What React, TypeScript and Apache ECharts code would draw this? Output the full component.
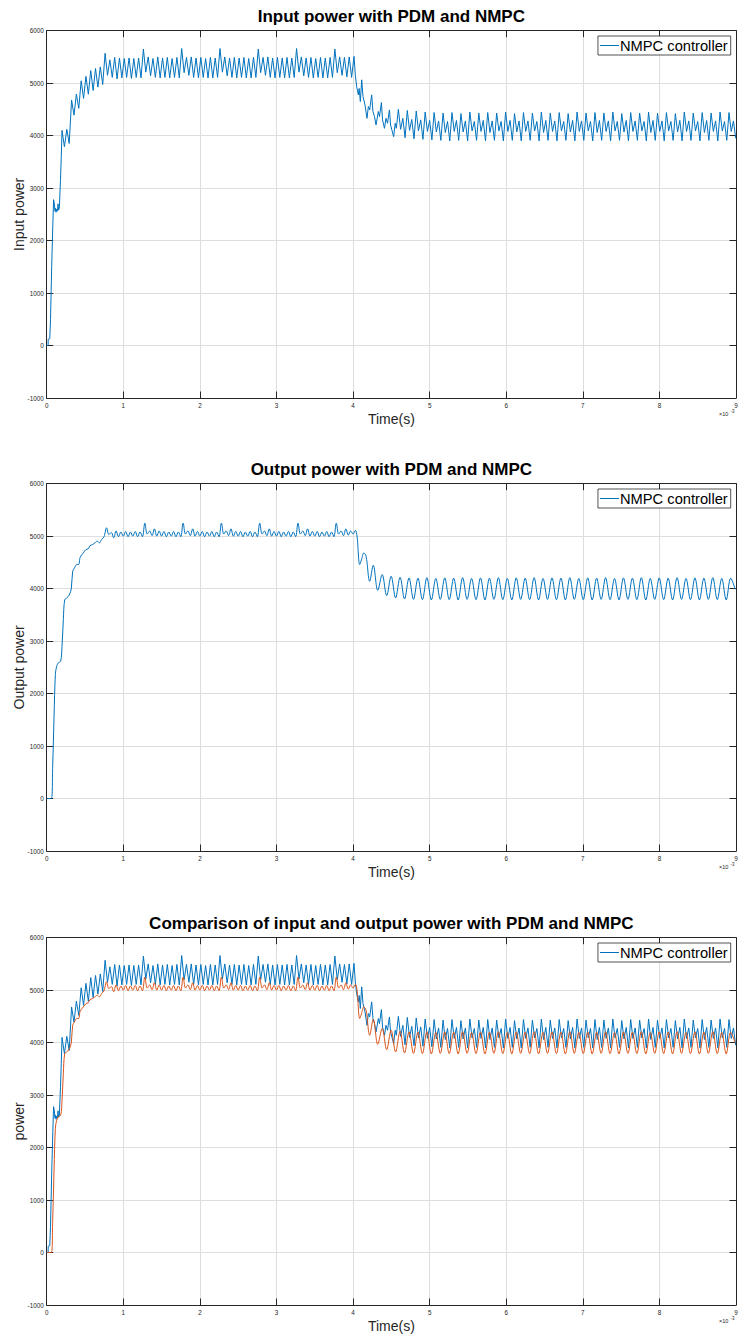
import React, { useEffect, useRef } from "react";
import * as echarts from "echarts";

// ---------- data (time in ms, power values) ----------
const X_TICKS = [0, 1, 2, 3, 4, 5, 6, 7, 8, 9];
const Y_TICKS = [-1000, 0, 1000, 2000, 3000, 4000, 5000, 6000];

const TITLES = [
  "Input power with PDM and NMPC",
  "Output power with PDM and NMPC",
  "Comparison of input and output power with PDM and NMPC",
];
const Y_NAMES = ["Input power", "Output power", "power"];
const LEGEND_NAME = "NMPC controller";

// Input power: start-up
const INPUT_RISE_T = [0, 0.018, 0.02, 0.04, 0.05, 0.065, 0.08, 0.09, 0.1, 0.108, 0.115, 0.122, 0.13, 0.14, 0.148, 0.155, 0.165, 0.18, 0.19];
const INPUT_RISE_V = [0, 0, 120, 130, 500, 1500, 2300, 2780, 2700, 2560, 2620, 2540, 2600, 2560, 2700, 2580, 2620, 3150, 3600];
// Input power: ripple (peak / trough) from 0.2 ms, sampled every 0.03125 ms
const INPUT_RIPPLE_T0 = 0.2;
const INPUT_RIPPLE_DT = 0.03125;
const INPUT_RIPPLE_V = [
  4100, 3790, 4120, 3850, 4680, 4390, 4790, 4520, 5045, 4710, 5130, 4790, 5240, 4860, 5280, 4925, 5310, 4975,
  5570, 5150, 5445, 5110, 5490, 5080, 5480, 5100, 5470, 5110, 5480, 5090, 5470, 5110, 5480, 5100,
  5650, 5210, 5500, 5140, 5470, 5110, 5500, 5100, 5480, 5110, 5490, 5100, 5470, 5110, 5490, 5100,
  5660, 5200, 5490, 5150, 5500, 5110, 5480, 5100, 5490, 5110, 5470, 5100, 5490, 5100, 5480, 5110,
  5660, 5210, 5500, 5140, 5480, 5110, 5490, 5100, 5480, 5110, 5490, 5100, 5470, 5100, 5490, 5110,
  5650, 5200, 5490, 5150, 5500, 5110, 5480, 5100, 5490, 5110, 5480, 5100, 5490, 5100, 5480, 5110,
  5660, 5210, 5500, 5140, 5480, 5110, 5490, 5100, 5470, 5110, 5490, 5100, 5480, 5100, 5490, 5110,
  5650, 5200, 5500, 5150, 5490, 5120, 5500, 5110, 5510,
];
// Input power: load step near 4 ms
const INPUT_STEP_T = [4.03, 4.047, 4.069, 4.08, 4.095, 4.113, 4.13, 4.156, 4.182, 4.2, 4.217, 4.243, 4.26, 4.28, 4.3, 4.33, 4.345, 4.37, 4.385, 4.41, 4.43, 4.45, 4.475, 4.49, 4.53, 4.55, 4.565];
const INPUT_STEP_V = [5150, 4936, 4777, 4900, 4650, 5064, 4745, 4586, 4330, 4554, 4490, 4777, 4458, 4363, 4204, 4460, 4363, 4630, 4300, 4140, 4330, 4236, 4490, 4204, 3980, 4236, 4140];
// Input power: second steady state (spike, dip, shoulder, trough), every 0.029167 ms
const INPUT_TAIL_T0 = 4.5917;
const INPUT_TAIL_DT = 0.029167;
const INPUT_TAIL_V = [
  4500, 4120, 4330, 3960, 4480, 4100, 4310, 3940, 4470, 4090, 4300, 3930, 4450, 4080, 4290, 3920,
  4440, 4070, 4280, 3910, 4430, 4060, 4270, 3900, 4440, 4080, 4290, 3910, 4420, 4070, 4280, 3900,
  4450, 4090, 4270, 3910, 4430, 4080, 4290, 3900, 4440, 4060, 4280, 3910, 4430, 4090, 4270, 3900,
  4450, 4080, 4290, 3910, 4420, 4070, 4280, 3900, 4440, 4080, 4280, 3910, 4430, 4090, 4270, 3900,
  4450, 4060, 4290, 3910, 4430, 4080, 4280, 3900, 4440, 4090, 4270, 3910, 4420, 4070, 4290, 3900,
  4450, 4080, 4280, 3910, 4430, 4090, 4270, 3900, 4440, 4060, 4290, 3910, 4430, 4080, 4280, 3900,
  4450, 4090, 4270, 3910, 4420, 4070, 4290, 3900, 4440, 4080, 4280, 3910, 4430, 4090, 4270, 3900,
  4450, 4060, 4290, 3910, 4430, 4080, 4280, 3900, 4440, 4090, 4270, 3910, 4420, 4070, 4290, 3900,
  4450, 4080, 4280, 3910, 4430, 4090, 4270, 3900, 4440, 4060, 4290, 3910, 4430, 4080, 4280, 3900,
  4450, 4090, 4270, 3910, 4440, 4080, 4280, 3950,
];

// Output power: start-up
const OUTPUT_RISE_T = [0, 0.06, 0.078, 0.096, 0.113, 0.13, 0.152, 0.183, 0.2, 0.217, 0.235, 0.26, 0.296, 0.322, 0.339, 0.365, 0.391, 0.417, 0.435, 0.461, 0.478, 0.513, 0.543, 0.565, 0.6, 0.63, 0.66, 0.687, 0.717, 0.748];
const OUTPUT_RISE_V = [0, 0, 615, 1570, 2363, 2520, 2585, 2620, 2900, 3410, 3790, 3820, 3880, 4010, 4330, 4400, 4460, 4460, 4590, 4650, 4680, 4745, 4760, 4820, 4840, 4873, 4905, 4873, 4936, 4987];
// Output power: ripple from 0.78125 ms, every 0.03125 ms
const OUTPUT_RIPPLE_T0 = 0.78125;
const OUTPUT_RIPPLE_DT = 0.03125;
const OUTPUT_RIPPLE_V = [
  5160, 5030, 5070, 4970, 5100, 4990, 5080, 5000, 5090, 4990, 5080, 5000, 5090, 4990, 5080, 4990,
  5250, 5040, 5100, 5010, 5140, 5000, 5100, 5000, 5090, 4990, 5080, 5000, 5090, 4990, 5080, 4990,
  5250, 5040, 5100, 5010, 5140, 5000, 5090, 5000, 5090, 4990, 5080, 5000, 5090, 4990, 5080, 4990,
  5250, 5040, 5100, 5010, 5140, 5000, 5090, 5000, 5090, 4990, 5080, 5000, 5090, 4990, 5080, 4990,
  5250, 5040, 5100, 5010, 5140, 5000, 5090, 5000, 5090, 4990, 5080, 5000, 5090, 4990, 5080, 4990,
  5250, 5040, 5100, 5010, 5140, 5000, 5090, 5000, 5090, 4990, 5080, 5000, 5090, 4990, 5080, 4990,
  5250, 5040, 5100, 5010, 5140, 5020, 5100, 5040, 5110,
];
// Output power: load step near 4 ms
const OUTPUT_STEP_T = [4.052, 4.087, 4.11, 4.14, 4.17, 4.217];
const OUTPUT_STEP_V = [5000, 4460, 4550, 4680, 4620, 4140];
// Output power: second steady state, peak / trough every 0.058333 ms
const OUTPUT_TAIL_T0 = 4.264;
const OUTPUT_TAIL_DT = 0.058333;
const OUTPUT_TAIL_V = [
  4446, 3968, 4268, 3866, 4236, 3822, 4217, 3803, 4204, 3795,
  4200, 3790, 4210, 3785, 4195, 3795, 4205, 3790, 4200, 3785, 4210, 3795, 4195, 3790,
  4205, 3785, 4200, 3795, 4210, 3790, 4195, 3785, 4205, 3795, 4200, 3790, 4210, 3785,
  4195, 3795, 4205, 3790, 4200, 3785, 4210, 3795, 4195, 3790, 4205, 3785, 4200, 3795,
  4210, 3790, 4195, 3785, 4205, 3795, 4200, 3790, 4210, 3785, 4195, 3795, 4205, 3790,
  4200, 3785, 4210, 3795, 4195, 3790, 4205, 3785, 4200, 3795, 4210, 3790, 4195, 3785,
  4200, 3990,
];

// ---------- helpers ----------
const pairs = (ts: number[], vs: number[]) => vs.map((v, i) => [ts[i], v]);
const sampled = (t0: number, dt: number, vs: number[]) => vs.map((v, i) => [t0 + i * dt, v]);

const INPUT_DATA = [
  ...pairs(INPUT_RISE_T, INPUT_RISE_V),
  ...sampled(INPUT_RIPPLE_T0, INPUT_RIPPLE_DT, INPUT_RIPPLE_V),
  ...pairs(INPUT_STEP_T, INPUT_STEP_V),
  ...sampled(INPUT_TAIL_T0, INPUT_TAIL_DT, INPUT_TAIL_V),
];
const OUTPUT_DATA = [
  ...pairs(OUTPUT_RISE_T, OUTPUT_RISE_V),
  ...sampled(OUTPUT_RIPPLE_T0, OUTPUT_RIPPLE_DT, OUTPUT_RIPPLE_V),
  ...pairs(OUTPUT_STEP_T, OUTPUT_STEP_V),
  ...sampled(OUTPUT_TAIL_T0, OUTPUT_TAIL_DT, OUTPUT_TAIL_V),
];

const BLUE = "#0072BD";
const ORANGE = "#D95319";
const AXIS = "#262626";
const GRIDC = "#dedede";
const FONT = "'Liberation Sans', Arial, Helvetica, sans-serif";

const LEFT = 46.7;
const RIGHT_EDGE = 736;
const TOPS = [30.7, 483.7, 937.7];
const PH = 367.3;

export default function App() {
  const ref = useRef<HTMLDivElement>(null);
  useEffect(() => {
    if (!ref.current) return;
    const chart = echarts.init(ref.current, undefined, { renderer: "svg" });
    const grids: any[] = [];
    const xAxes: any[] = [];
    const yAxes: any[] = [];
    const titles: any[] = [];
    const legends: any[] = [];
    const graphics: any[] = [];
    const series: any[] = [];
    TOPS.forEach((top, i) => {
      grids.push({
        left: LEFT,
        top,
        width: RIGHT_EDGE - LEFT,
        height: PH,
        containLabel: false,
        outerBoundsMode: "none",
      });
      const common = {
        gridIndex: i,
        type: "value",
        axisLine: { show: true, onZero: false, lineStyle: { color: AXIS, width: 1 } },
        axisTick: { show: true, inside: true, length: 6.5, lineStyle: { color: AXIS, width: 1 } },
      };
      xAxes.push({
        ...common,
        position: "bottom",
        min: X_TICKS[0],
        max: X_TICKS[X_TICKS.length - 1],
        interval: 1,
        axisLabel: { fontSize: 6.3, color: AXIS, margin: 4, fontFamily: FONT, formatter: (v: number) => String(v) },
        splitLine: { show: true, lineStyle: { color: GRIDC, width: 1 } },
        name: "Time(s)",
        nameLocation: "middle",
        nameGap: 14,
        nameMoveOverlap: false,
        nameTextStyle: { fontSize: 14, color: AXIS, fontFamily: FONT },
      });
      xAxes.push({
        ...common,
        position: "top",
        min: X_TICKS[0],
        max: X_TICKS[X_TICKS.length - 1],
        interval: 1,
        axisLabel: { show: false },
        splitLine: { show: false },
      });
      yAxes.push({
        ...common,
        position: "left",
        min: Y_TICKS[0],
        max: Y_TICKS[Y_TICKS.length - 1],
        interval: 1000,
        axisLabel: { fontSize: 6.3, color: AXIS, margin: 3, fontFamily: FONT, formatter: (v: number) => String(v) },
        splitLine: { show: true, lineStyle: { color: GRIDC, width: 1 } },
        name: Y_NAMES[i],
        nameLocation: "middle",
        nameGap: 21,
        nameMoveOverlap: false,
        nameRotate: 90,
        nameTextStyle: { fontSize: 14, color: AXIS, fontFamily: FONT },
      });
      yAxes.push({
        ...common,
        position: "right",
        min: Y_TICKS[0],
        max: Y_TICKS[Y_TICKS.length - 1],
        interval: 1000,
        axisLabel: { show: false },
        splitLine: { show: false },
      });
      titles.push({
        text: TITLES[i],
        left: (LEFT + RIGHT_EDGE) / 2,
        top: top - 23,
        textAlign: "center",
        padding: 0,
        textStyle: { fontSize: 17, fontWeight: "bold", color: "#000", fontFamily: FONT },
      });
      legends.push({
        data: [{ name: LEGEND_NAME, icon: "rect" }],
        right: 8.3,
        top: top + 5.3,
        orient: "vertical",
        selectedMode: false,
        backgroundColor: "#fff",
        borderColor: AXIS,
        borderWidth: 0.8,
        borderRadius: 0,
        padding: [2, 3, 2, 2],
        itemWidth: 19,
        itemHeight: 1,
        itemGap: 0,
        itemStyle: { color: BLUE, borderWidth: 0 },
        textStyle: { fontSize: 14.7, color: "#000", fontFamily: FONT, padding: [0, 0, 0, -4] },
      });
      graphics.push({
        type: "text",
        left: 719,
        top: top + PH + 13,
        style: { text: "×10", fontSize: 5.5, fill: AXIS, fontFamily: FONT },
      });
      graphics.push({
        type: "text",
        left: 730.5,
        top: top + PH + 11,
        style: { text: "-3", fontSize: 4.5, fill: AXIS, fontFamily: FONT },
      });
      const lineBase = {
        type: "line",
        xAxisIndex: i * 2,
        yAxisIndex: i * 2,
        symbol: "none",
        showSymbol: false,
        animation: false,
        silent: true,
      };
      if (i === 0 || i === 2) {
        series.push({ ...lineBase, name: LEGEND_NAME, data: INPUT_DATA, lineStyle: { color: BLUE, width: 1 }, itemStyle: { color: BLUE } });
      }
      if (i === 1) {
        series.push({ ...lineBase, name: LEGEND_NAME, data: OUTPUT_DATA, smooth: 0.35, lineStyle: { color: BLUE, width: 1 }, itemStyle: { color: BLUE } });
      }
      if (i === 2) {
        series.push({ ...lineBase, name: "Output power", data: OUTPUT_DATA, smooth: 0.35, lineStyle: { color: ORANGE, width: 1 }, itemStyle: { color: ORANGE } });
      }
    });
    chart.setOption({
      animation: false,
      backgroundColor: "#fff",
      textStyle: { fontFamily: FONT },
      title: titles,
      legend: legends,
      grid: grids,
      xAxis: xAxes,
      yAxis: yAxes,
      graphic: graphics,
      series,
    });
    return () => chart.dispose();
  }, []);
  return (
    <div
      ref={ref}
      style={{ position: "absolute", left: 0, top: 0, width: 739, height: 1334, background: "#fff" }}
    />
  );
}
